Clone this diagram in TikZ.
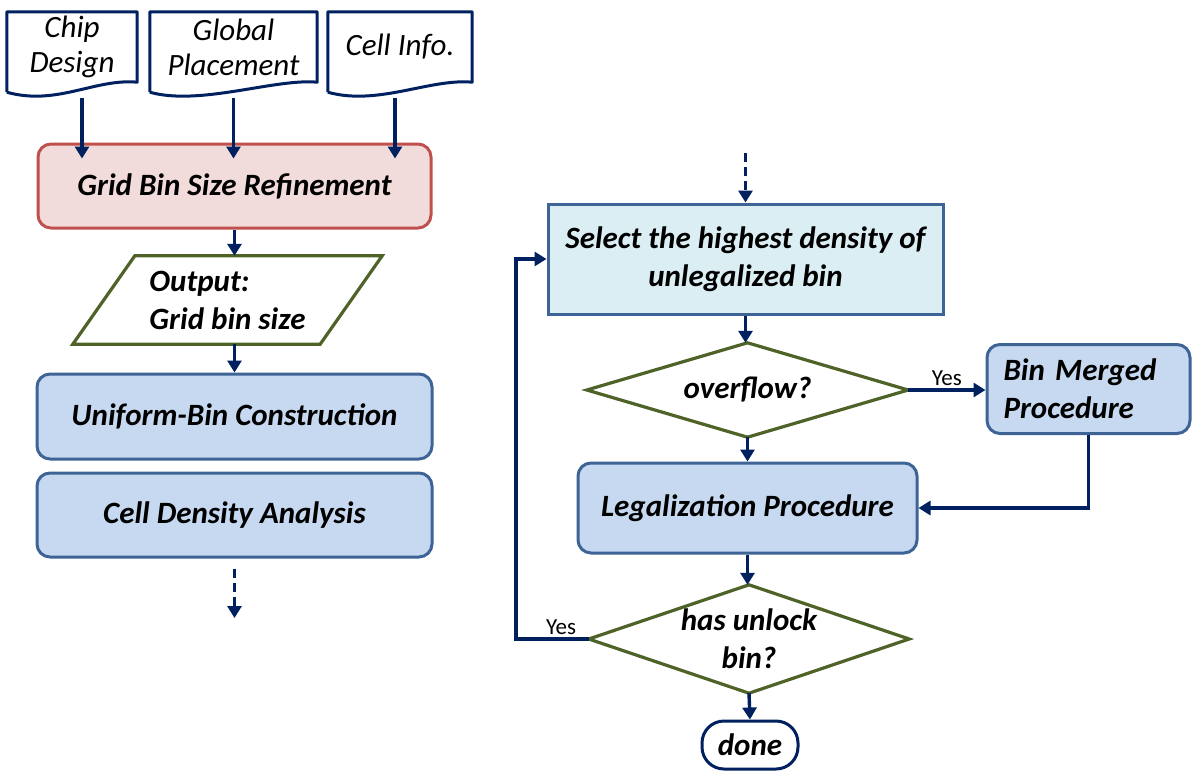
\documentclass[tikz,border=0pt]{standalone}
\usepackage{fontspec}
\setmainfont{Carlito}
\usetikzlibrary{arrows.meta}

\definecolor{navy}{HTML}{002060}
\definecolor{redline}{HTML}{C0504D}
\definecolor{redfill}{HTML}{F2DCDB}
\definecolor{procline}{HTML}{3E6496}
\definecolor{procfill}{HTML}{C6D9F0}
\definecolor{selfill}{HTML}{DBEEF4}
\definecolor{olive}{HTML}{4F6228}

\newcommand{\boxfont}{\fontsize{31}{38}\selectfont\bfseries\itshape}
\newcommand{\docfont}{\fontsize{31}{35}\selectfont\itshape}

\begin{document}
\begin{tikzpicture}[x=1pt,y=-1pt,
  arr/.style={navy,line width=3.4pt,-{Triangle[width=14pt,length=12pt]}},
  dashline/.style={dash pattern=on 9pt off 5pt},
  docnode/.style={minimum height=70pt,inner sep=0pt,align=center,font=\docfont},
  docline/.style={draw=navy,line width=3pt,line join=round},
  proc/.style={draw=procline,fill=procfill,line width=3pt,rounded corners=13pt,
    inner sep=0pt,align=center,font=\boxfont},
  decide/.style={draw=olive,line width=3.2pt,line join=miter},
  textnode/.style={inner sep=0pt,align=center,font=\boxfont},
  yes/.style={text=black,font=\fontsize{23}{25}\selectfont,inner sep=3pt}]

\useasboundingbox (0,0) rectangle (1192,772);

% input documents
\node[docnode,minimum width=130pt] (chip) at (72,47) {Chip\\Design};
\node[docnode,minimum width=167pt] (glob) at (233.5,47) {Global\\Placement};
\node[docnode,minimum width=144pt] (cinfo) at (400,47) {Cell Info.};
\foreach \d in {chip,glob,cinfo}
  \draw[docline] ([yshift=-10pt]\d.south west) -- (\d.north west) -- (\d.north east)
    -- (\d.south east) .. controls +(-42,-4) and +(50,14) .. ([yshift=-10pt]\d.south west);

% left column
\node[proc,draw=redline,fill=redfill,minimum width=393pt,minimum height=84pt] (refine) at (234.5,186) {Grid Bin Size Refinement};
\node[textnode,align=left,minimum width=247pt,minimum height=88pt] (outp) at (227.5,300) {Output:\\Grid bin size};
\draw[decide] ([xshift=-31pt]outp.south west) -- ([xshift=31pt]outp.north west)
  -- ([xshift=31pt]outp.north east) -- ([xshift=-31pt]outp.south east) -- cycle;
\node[proc,minimum width=395pt,minimum height=85pt] (uni) at (234.5,416.5) {Uniform-Bin Construction};
\node[proc,minimum width=395pt,minimum height=84pt] (density) at (234.5,515) {Cell Density Analysis};
\coordinate (lbot) at (234.5,618);

\draw[arr] ([xshift=10pt,yshift=-16pt]chip.south) -- ([xshift=10pt,yshift=-16pt]chip.south |- refine.north);
\draw[arr] ([yshift=-16pt]glob.south) -- ([yshift=-16pt]glob.south |- refine.north);
\draw[arr] ([xshift=-5pt,yshift=-16pt]cinfo.south) -- ([xshift=-5pt,yshift=-16pt]cinfo.south |- refine.north);
\draw[arr] (refine.south) -- (refine.south |- outp.north);
\draw[arr] (outp.south -| uni.north) -- (uni.north);
\draw[arr,dashline] ([yshift=-10pt]density.south) -- (lbot);

% right column
\coordinate (rtop) at (745.5,153);
\node[proc,fill=selfill,rounded corners=0pt,minimum width=395pt,minimum height=110pt] (select) at (745.5,259) {Select the highest density of\\unlegalized bin};
\node[textnode,minimum width=321pt,minimum height=94pt] (ovf) at (747.5,390) {overflow?};
\draw[decide] (ovf.north) -- (ovf.east) -- (ovf.south) -- (ovf.west) -- cycle;
\node[proc,align=left,text width=170pt,minimum width=203pt,minimum height=89pt] (merged) at (1088.5,389) {Bin Merged\\Procedure};
\node[proc,minimum width=339pt,minimum height=90pt] (legal) at (747.5,508) {Legalization Procedure};
\node[textnode,minimum width=320pt,minimum height=108pt] (unlock) at (749,639) {has unlock\\bin?};
\draw[decide] (unlock.north) -- (unlock.east) -- (unlock.south) -- (unlock.west) -- cycle;
\node[textnode,draw=navy,line width=3pt,rounded corners=22pt,minimum width=96pt,minimum height=48pt] (done) at (750,745) {done};

\draw[arr,dashline] (rtop) -- (select.north);
\draw[arr] (select.south) -- (select.south |- ovf.north);
\draw[arr] (ovf.east) -- (ovf.east -| merged.west) node[midway,above,yes] {Yes};
\draw[arr] (ovf.south) -- (ovf.south |- legal.north);
\draw[arr] (merged.south) |- (legal.east);
\draw[arr] (legal.south) -- (legal.south |- unlock.north);
\draw[arr] (unlock.west) -- ++(-73,0) node[pos=0.38,above,yes] {Yes} |- (select.west);
\draw[arr] (unlock.south) -- (done.north);

\end{tikzpicture}
\end{document}
